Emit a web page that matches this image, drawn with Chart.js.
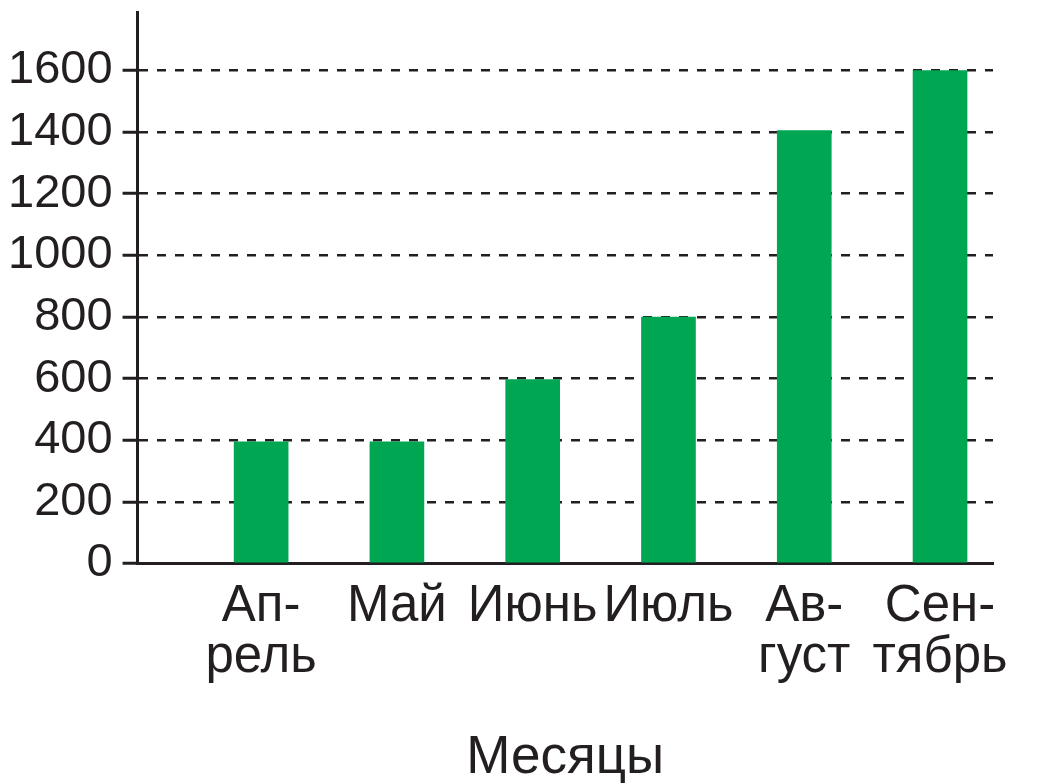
<!DOCTYPE html>
<html>
<head>
<meta charset="utf-8">
<script src="https://cdn.jsdelivr.net/npm/chart.js@4"></script>
<style>
  html, body { margin: 0; padding: 0; background: #fff; }
  #wrap { width: 1039px; height: 783px; }
</style>
</head>
<body>
<div id="wrap"><canvas id="chart"></canvas></div>
<script>
// data
const months = ["Апрель", "Май", "Июнь", "Июль", "Август", "Сентябрь"];
const monthLines = [["Ап-", "рель"], ["Май"], ["Июнь"], ["Июль"], ["Ав-", "густ"], ["Сен-", "тябрь"]];
const amounts = [395, 395, 597, 800, 1405, 1600];
const yTicks = [0, 200, 400, 600, 800, 1000, 1200, 1400, 1600];

const ink = "#231f20";
const green = "#00a651";
const font = "'Liberation Sans', Arial, Helvetica, sans-serif";

new Chart(document.getElementById("chart"), {
  type: "bar",
  data: {
    labels: months,
    datasets: [{
      label: "Месяцы",
      data: amounts.map((v, i) => ({ x: i + 1, y: v })),
      backgroundColor: green,
      barThickness: 54
    }]
  },
  options: {
    responsive: true,
    maintainAspectRatio: false,
    animation: false,
    layout: { padding: { top: 12, left: -2, right: 46, bottom: -7 } },
    plugins: {
      legend: { display: false },
      tooltip: { enabled: false }
    },
    scales: {
      x: {
        type: "linear",
        offset: false,
        min: 0.09,
        max: 6.39,
        z: 1,
        afterBuildTicks: scale => {
          scale.ticks = months.map((_, i) => ({ value: i + 1 }));
        },
        grid: { display: false, drawTicks: false },
        border: { display: true, color: ink, width: 3 },
        ticks: {
          autoSkip: false,
          maxRotation: 0,
          padding: 18,
          color: ink,
          font: { family: font, size: 51, lineHeight: 1.0 },
          callback: v => monthLines[v - 1] || ""
        },
        title: {
          display: true,
          text: "Месяцы",
          color: ink,
          font: { family: font, size: 53 },
          padding: { top: 25, bottom: 0 }
        }
      },
      y: {
        min: 0,
        max: 1790,
        z: 1,
        afterBuildTicks: scale => {
          scale.ticks = yTicks.map(v => ({ value: v }));
        },
        afterFit: scale => {
          scale.paddingTop = 0;
        },
        grid: {
          color: ink,
          lineWidth: 2.5,
          tickLength: 15,
          tickBorderDash: [],
          tickWidth: 3
        },
        border: { display: true, color: ink, width: 3, dash: [9, 9] },
        ticks: {
          padding: 10,
          color: ink,
          font: { family: font, size: 47, lineHeight: 0.5 },
          callback: v => String(v)
        }
      }
    }
  }
});
</script>
</body>
</html>
